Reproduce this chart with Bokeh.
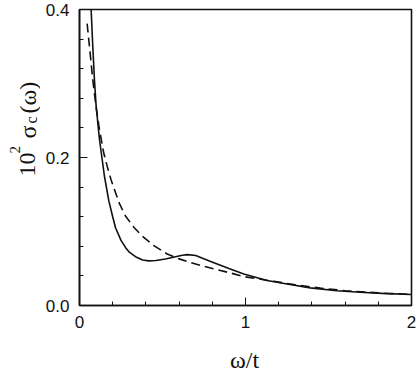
import math
from bokeh.plotting import figure
from bokeh.layouts import row, column
from bokeh.models import Range1d, FixedTicker, NumeralTickFormatter, Label, ColumnDataSource
from bokeh.embed import file_html
from bokeh.resources import INLINE

# ---- data ----
omega_solid = [0.065, 0.07, 0.08, 0.09, 0.10, 0.12, 0.135, 0.15, 0.177, 0.20, 0.217, 0.25,
               0.277, 0.30, 0.337, 0.38, 0.418, 0.46, 0.518, 0.578, 0.62, 0.65, 0.70,
               0.79, 0.90, 0.99, 1.13, 1.25, 1.39, 1.55, 1.69, 1.85, 2.0]
sigma_solid = [0.43, 0.40, 0.35, 0.305, 0.27, 0.225, 0.20, 0.175, 0.141, 0.12, 0.105, 0.088,
               0.0785, 0.072, 0.066, 0.0615, 0.0603, 0.0608, 0.0629, 0.066, 0.068, 0.0687, 0.0675,
               0.0594, 0.050, 0.0427, 0.0337, 0.029, 0.0238, 0.020, 0.018, 0.016, 0.0148]

omega_dashed = [0.046, 0.06, 0.08, 0.10, 0.12, 0.146, 0.167, 0.19, 0.207, 0.24, 0.277, 0.33,
                0.377, 0.448, 0.528, 0.60, 0.70, 0.79, 0.90, 0.99, 1.17, 1.3, 1.45, 1.6, 1.8, 2.0]
sigma_dashed = [0.381, 0.35, 0.305, 0.268, 0.238, 0.206, 0.188, 0.17, 0.159, 0.138, 0.121, 0.105,
                0.094, 0.081, 0.0696, 0.063, 0.056, 0.0507, 0.0445, 0.039, 0.0327, 0.028, 0.0235,
                0.020, 0.017, 0.015]

x_major = [0, 1, 2]
x_minor = [0.2, 0.4, 0.6, 0.8, 1.2, 1.4, 1.6, 1.8]
y_major = [0.0, 0.2, 0.4]
y_minor = [0.04, 0.08, 0.12, 0.16, 0.24, 0.28, 0.32, 0.36]

W, H = 416, 374
LW = 40      # left strip carrying the y-axis title
H1 = 340     # height of the plot row; the strip below carries the x-axis title
INK = "#111111"


def strip(w, h):
    f = figure(width=w, height=h, output_backend="svg", toolbar_location=None,
               x_range=Range1d(0, w), y_range=Range1d(0, h),
               x_axis_location=None, y_axis_location=None,
               min_border=0, min_border_left=0, min_border_right=0,
               min_border_top=0, min_border_bottom=0)
    f.grid.visible = False
    f.outline_line_color = None
    f.background_fill_color = "white"
    f.border_fill_color = "white"
    return f


p = figure(width=W - LW, height=H1, output_backend="svg", toolbar_location=None,
           x_range=Range1d(0, 2), y_range=Range1d(0, 0.4),
           min_border_left=79 - LW, min_border_right=5, min_border_top=9,
           min_border_bottom=H1 - 305)
p.background_fill_color = "white"
p.border_fill_color = "white"
p.grid.visible = False
p.outline_line_color = INK
p.outline_line_width = 1.6

src_s = ColumnDataSource(dict(x=omega_solid, y=sigma_solid))
src_d = ColumnDataSource(dict(x=omega_dashed, y=sigma_dashed))
p.line("x", "y", source=src_s, line_color=INK, line_width=1.6)
p.line("x", "y", source=src_d, line_color=INK, line_width=1.6, line_dash="9 5")

for ax in (p.xaxis[0], p.yaxis[0]):
    ax.axis_line_color = INK
    ax.axis_line_width = 1.6
    ax.major_tick_in = 8
    ax.major_tick_out = 0
    ax.minor_tick_in = 4
    ax.minor_tick_out = 0
    ax.major_tick_line_color = INK
    ax.minor_tick_line_color = INK
    ax.major_label_text_font = "Liberation Sans"
    ax.major_label_text_font_size = "17px"
    ax.major_label_text_color = INK

p.xaxis.ticker = FixedTicker(ticks=x_major, minor_ticks=x_minor)
p.yaxis.ticker = FixedTicker(ticks=y_major, minor_ticks=y_minor)
p.xaxis.formatter = NumeralTickFormatter(format="0")
p.yaxis.formatter = NumeralTickFormatter(format="0.0")
p.xaxis.major_label_standoff = 10
p.yaxis.major_label_standoff = 10

# y-axis title, built from pieces (superscript 2, subscript c)
lf = strip(LW, H1)
serif = "Liberation Serif"
pieces = [  # text, size, baseline x (px from left), start y (px from top)
    ("10", 24, 27, 211),
    ("2", 15, 14, 188),
    ("σ", 24, 27, 173),
    ("c", 16, 31, 158),
    ("(ω)", 24, 27, 148),
]
for txt, size, bx, sy in pieces:
    lf.add_layout(Label(x=bx, y=H1 - sy, x_units="screen", y_units="screen", text=txt,
                        angle=math.pi / 2, text_align="left", text_baseline="alphabetic",
                        text_font=serif, text_font_size=f"{size}px", text_color=INK))

# x-axis title
bf = strip(W, H - H1)
bf.add_layout(Label(x=244, y=15, x_units="screen", y_units="screen", text="ω/t",
                    text_align="center", text_baseline="middle",
                    text_font=serif, text_font_size="24px", text_color=INK))

layout = column(row(lf, p, spacing=0), bf, spacing=0)
open("out.html", "w").write(file_html(layout, INLINE))
